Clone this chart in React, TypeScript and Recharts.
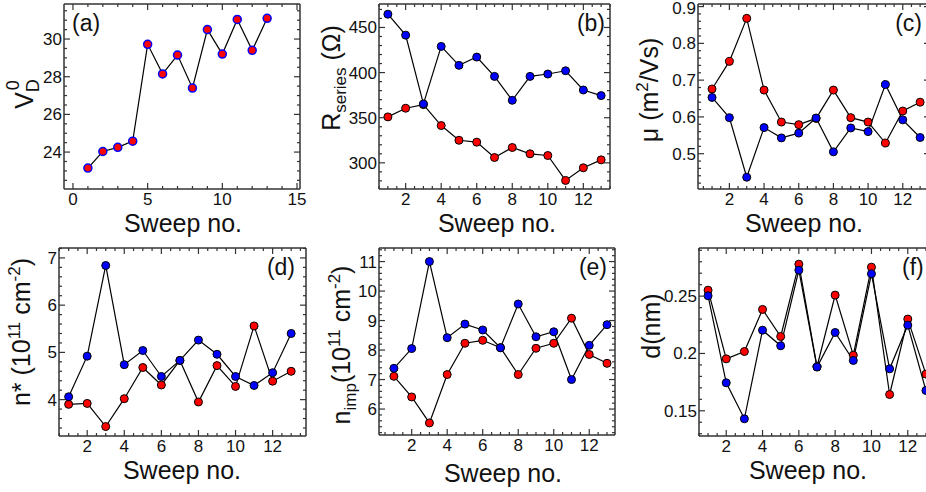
import React from "react";
import { LineChart, Line, XAxis, YAxis } from "recharts";

// sweep numbers shared by every panel
const sweeps = [1, 2, 3, 4, 5, 6, 7, 8, 9, 10, 11, 12, 13];

// (a) V_D^0
const vd0 = [23.15, 24.03, 24.25, 24.58, 29.72, 28.15, 29.15, 27.4, 30.5, 29.2, 31.04, 29.4, 31.1];
// (b) R_series
const rRed = [350.9, 360.5, 364.5, 341.3, 325, 322.9, 305.9, 317, 310, 308.1, 280.5, 294.5, 303.3];
const rBlue = [464.7, 441.5, 365.3, 429, 408, 417.2, 395.8, 369.3, 395.8, 398.4, 402, 380.7, 374.5];
// (c) mobility
const muRed = [0.676, 0.751, 0.868, 0.673, 0.586, 0.579, 0.596, 0.673, 0.598, 0.586, 0.529, 0.616, 0.64];
const muBlue = [0.653, 0.598, 0.436, 0.571, 0.543, 0.556, 0.597, 0.505, 0.57, 0.56, 0.688, 0.592, 0.544];
// (d) n*
const nStarRed = [3.9, 3.92, 3.43, 4.02, 4.68, 4.31, 4.83, 3.95, 4.72, 4.28, 5.56, 4.39, 4.6];
const nStarBlue = [4.06, 4.92, 6.84, 4.74, 5.04, 4.49, 4.83, 5.26, 4.96, 4.49, 4.3, 4.57, 5.4];
// (e) n_imp
const nImpRed = [7.11, 6.41, 5.53, 7.17, 8.23, 8.33, 8.08, 7.17, 8.06, 8.23, 9.08, 7.85, 7.55];
const nImpBlue = [7.38, 8.05, 11.0, 8.42, 8.88, 8.68, 8.08, 9.56, 8.45, 8.62, 7.0, 8.16, 8.86];
// (f) d
const dRed = [0.2552, 0.1953, 0.2017, 0.2384, 0.2148, 0.2779, 0.1884, 0.2509, 0.1985, 0.2753, 0.1642, 0.23, 0.182];
const dBlue = [0.2503, 0.1744, 0.143, 0.2203, 0.2067, 0.2727, 0.1881, 0.2183, 0.1939, 0.2695, 0.1866, 0.2247, 0.1677];

// tick labels
const xTicksA = [0, 5, 10, 15];
const xTicks = [2, 4, 6, 8, 10, 12];
const yTicksA = [24, 26, 28, 30];
const yTicksB = [300, 350, 400, 450];
const yTicksC = [0.5, 0.6, 0.7, 0.8, 0.9];
const yTicksD = [4, 5, 6, 7];
const yTicksE = [6, 7, 8, 9, 10, 11];
const yTicksF = [0.15, 0.2, 0.25];

const RED = "#ff0000";
const BLUE = "#0000ff";
const FRAME = "#333";
const FONT = "'Liberation Sans', Arial, sans-serif";

const rows = (red: number[], blue?: number[]) =>
  sweeps.map((s, i) => ({ sweep: s, red: red[i], blue: blue ? blue[i] : undefined }));

function minor(domain: number[], step: number) {
  const out: number[] = [];
  const start = Math.ceil(domain[0] / step - 1e-9);
  for (let k = start; k * step <= domain[1] + 1e-9; k++) out.push(+(k * step).toFixed(6));
  return out;
}

const makeTick = (side: string, majors: number[], labels: boolean) => (props: any) => {
  const { x, y, payload } = props;
  const v = payload.value;
  const isMajor = majors.some((m) => Math.abs(m - v) < 1e-6);
  const len = isMajor ? 6 : 3;
  let line;
  let text = null;
  if (side === "bottom") {
    line = <line x1={x} x2={x} y1={y} y2={y - len} stroke={FRAME} strokeWidth={1.2} />;
    if (isMajor && labels)
      text = <text x={x} y={y + 16} textAnchor="middle" fontSize={17} fontFamily={FONT} fill="#111">{String(v)}</text>;
  } else if (side === "top") {
    line = <line x1={x} x2={x} y1={y} y2={y + len} stroke={FRAME} strokeWidth={1.2} />;
  } else if (side === "left") {
    line = <line x1={x} x2={x + len} y1={y} y2={y} stroke={FRAME} strokeWidth={1.2} />;
    if (isMajor && labels)
      text = <text x={x - 2} y={Math.max(y + 6, 14)} textAnchor="end" fontSize={17} fontFamily={FONT} fill="#111">{String(v)}</text>;
  } else {
    line = <line x1={x} x2={x - len} y1={y} y2={y} stroke={FRAME} strokeWidth={1.2} />;
  }
  return <g>{line}{text}</g>;
};

// plot = [left, top, right, bottom] of the frame inside the panel box
function Panel(p: any) {
  const { left, top, width, height, plot, data, xDomain, xMajor, xStep, yDomain, yMajor, yStep, series } = p;
  const margin = { left: plot[0] - 1, top: plot[1] - 1, right: width - plot[2] - 1, bottom: height - plot[3] - 1 };
  const xAll = Array.from(new Set([...minor(xDomain, xStep), ...xMajor])).sort((a, b) => a - b);
  const yAll = Array.from(new Set([...minor(yDomain, yStep), ...yMajor])).sort((a, b) => a - b);
  const axisLine = { stroke: FRAME, strokeWidth: 1.5 };
  const common = { tickSize: 0, tickMargin: 0, interval: 0 as const, allowDataOverflow: true };
  return (
    <div style={{ position: "absolute", left, top, width, height }}>
      <LineChart width={width} height={height} data={data} margin={margin}>
        <XAxis xAxisId="b" dataKey="sweep" type="number" orientation="bottom" height={1} domain={xDomain} ticks={xAll}
          axisLine={axisLine} tick={makeTick("bottom", xMajor, true)} {...common} />
        <XAxis xAxisId="t" dataKey="sweep" type="number" orientation="top" height={1} domain={xDomain} ticks={xAll}
          axisLine={axisLine} tick={makeTick("top", xMajor, false)} {...common} />
        <YAxis yAxisId="l" type="number" orientation="left" width={1} domain={yDomain} ticks={yAll}
          axisLine={axisLine} tick={makeTick("left", yMajor, true)} {...common} />
        <YAxis yAxisId="r" type="number" orientation="right" width={1} domain={yDomain} ticks={yAll}
          axisLine={axisLine} tick={makeTick("right", yMajor, false)} {...common} />
        {series.map((s: any) => (
          <Line key={s.key} xAxisId="b" yAxisId="l" dataKey={s.key} type="linear" stroke="#000" strokeWidth={1.2}
            dot={{ r: 4, fill: s.fill, stroke: s.stroke, strokeWidth: s.sw || 1, fillOpacity: 1 }}
            activeDot={false} isAnimationActive={false} />
        ))}
      </LineChart>
      <svg width={width} height={height} style={{ position: "absolute", left: 0, top: 0, pointerEvents: "none" }}>
        <text x={p.xTitleX} y={p.xTitleY} textAnchor="middle" fontSize={25} fontFamily={FONT} fill="#111">Sweep no.</text>
        <text x={p.yTitleX} y={p.yTitleY} transform={`rotate(-90, ${p.yTitleX}, ${p.yTitleY})`} textAnchor="middle"
          fontSize={25} fontFamily={FONT} fill="#111">{p.yTitle}</text>
        <text x={p.tagX} y={p.tagY} textAnchor={p.tagAnchor} fontSize={23} fontFamily={FONT} fill="#111">{p.tag}</text>
      </svg>
    </div>
  );
}

const two = [
  { key: "red", fill: RED, stroke: "#000" },
  { key: "blue", fill: BLUE, stroke: "#000" },
];

export default function App() {
  return (
    <div style={{ position: "absolute", left: 0, top: 0, width: 926, height: 492, overflow: "hidden", background: "#fff" }}>
      <Panel left={0} top={0} width={312} height={240} plot={[64, 4, 300, 189]}
        data={rows(vd0)} xDomain={[-0.6, 15.2]} xMajor={xTicksA} xStep={1}
        yDomain={[22.04, 31.86]} yMajor={yTicksA} yStep={0.5}
        series={[{ key: "red", fill: RED, stroke: BLUE, sw: 1.5 }]}
        xTitleX={183} xTitleY={232} yTitleX={33} yTitleY={94}
        yTitle={<>V<tspan fontSize={18} dy={6}>D</tspan><tspan fontSize={18} dx={-11} dy={-20}>0</tspan></>}
        tag="(a)" tagX={72} tagY={31} tagAnchor="start" />
      <Panel left={312} top={0} width={318} height={240} plot={[67, 4, 298, 189]}
        data={rows(rRed, rBlue)} xDomain={[0.5, 13.5]} xMajor={xTicks} xStep={0.5}
        yDomain={[271, 476]} yMajor={yTicksB} yStep={10}
        series={two}
        xTitleX={185} xTitleY={232} yTitleX={28} yTitleY={78}
        yTitle={<>R<tspan fontSize={17} dy={6}>series</tspan><tspan dy={-6}> (Ω)</tspan></>}
        tag="(b)" tagX={293} tagY={31} tagAnchor="end" />
      <Panel left={630} top={0} width={310} height={240} plot={[68, 4, 300, 189]}
        data={rows(muRed, muBlue)} xDomain={[0.19, 13.57]} xMajor={xTicks} xStep={0.5}
        yDomain={[0.404, 0.907]} yMajor={yTicksC} yStep={0.02}
        series={two}
        xTitleX={174} xTitleY={232} yTitleX={28} yTitleY={90}
        yTitle={<>μ (m<tspan fontSize={17} dy={-10}>2</tspan><tspan dy={10}>/Vs)</tspan></>}
        tag="(c)" tagX={292} tagY={31} tagAnchor="end" />
      <Panel left={0} top={240} width={312} height={252} plot={[59, 8, 306, 196]}
        data={rows(nStarRed, nStarBlue)} xDomain={[0.48, 13.8]} xMajor={xTicks} xStep={0.5}
        yDomain={[3.23, 7.21]} yMajor={yTicksD} yStep={0.2}
        series={two}
        xTitleX={182} xTitleY={239} yTitleX={30} yTitleY={92}
        yTitle={<>n* (10<tspan fontSize={17} dy={-10}>11</tspan><tspan dy={10}> cm</tspan><tspan fontSize={17} dy={-10}>-2</tspan><tspan dy={10}>)</tspan></>}
        tag="(d)" tagX={295} tagY={35} tagAnchor="end" />
      <Panel left={312} top={240} width={318} height={252} plot={[67, 8, 303, 195]}
        data={rows(nImpRed, nImpBlue)} xDomain={[0.16, 13.45]} xMajor={xTicks} xStep={0.5}
        yDomain={[5.12, 11.46]} yMajor={yTicksE} yStep={0.2}
        series={two}
        xTitleX={191} xTitleY={242} yTitleX={38} yTitleY={105}
        yTitle={<>n<tspan fontSize={17} dy={6}>imp</tspan><tspan dy={-6}>(10</tspan><tspan fontSize={17} dy={-10}>11</tspan><tspan dy={10}> cm</tspan><tspan fontSize={17} dy={-10}>-2</tspan><tspan dy={10}>)</tspan></>}
        tag="(e)" tagX={295} tagY={35} tagAnchor="end" />
      <Panel left={630} top={240} width={310} height={252} plot={[69, 8, 305, 196]}
        data={rows(dRed, dBlue)} xDomain={[0.5, 13.5]} xMajor={xTicks} xStep={0.5}
        yDomain={[0.128, 0.292]} yMajor={yTicksF} yStep={0.01}
        series={two}
        xTitleX={178} xTitleY={239} yTitleX={30} yTitleY={86}
        yTitle={<>d(nm)</>}
        tag="(f)" tagX={272} tagY={35} tagAnchor="start" />
    </div>
  );
}
